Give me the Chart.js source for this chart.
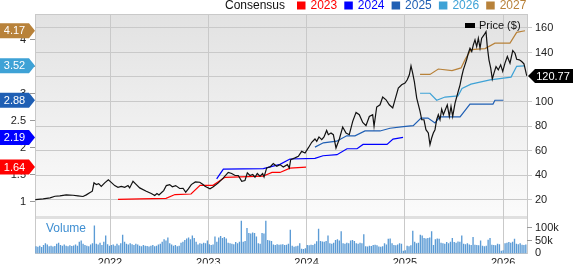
<!DOCTYPE html>
<html>
<head>
<meta charset="utf-8">
<script src="https://cdn.jsdelivr.net/npm/chart.js@4/dist/chart.umd.min.js"></script>
<style>
  html, body { margin: 0; padding: 0; background: #fff; }
  #wrap { width: 573px; height: 264px; }
</style>
</head>
<body>
<div id="wrap"><canvas id="chart" width="573" height="264"></canvas></div>
<script>
// price (weekly-ish closes), x = decimal year
const priceDates = [
  2021.24, 2021.32, 2021.39, 2021.44, 2021.49, 2021.555, 2021.624, 2021.674, 2021.725, 2021.759,
  2021.793, 2021.82, 2021.837, 2021.861, 2021.885, 2021.911, 2021.946, 2021.983, 2022.007, 2022.048,
  2022.081, 2022.115, 2022.15, 2022.183, 2022.2, 2022.234, 2022.268, 2022.302, 2022.369, 2022.42,
  2022.455, 2022.478, 2022.498, 2022.522, 2022.546, 2022.573, 2022.607, 2022.634, 2022.668, 2022.709,
  2022.743, 2022.77, 2022.797, 2022.827, 2022.868, 2022.913, 2022.946, 2022.966, 2023.017, 2023.051,
  2023.102, 2023.153, 2023.203, 2023.238, 2023.272, 2023.305, 2023.34, 2023.373, 2023.397, 2023.424,
  2023.452, 2023.475, 2023.498, 2023.526, 2023.553, 2023.567, 2023.594, 2023.628, 2023.661, 2023.696,
  2023.729, 2023.763, 2023.804, 2023.824, 2023.838, 2023.882, 2023.916, 2023.95, 2023.984, 2024.017,
  2024.052, 2024.085, 2024.103, 2024.126, 2024.154, 2024.177, 2024.204, 2024.221, 2024.248, 2024.272,
  2024.299, 2024.333, 2024.367, 2024.401, 2024.434, 2024.469, 2024.503, 2024.536, 2024.571, 2024.604,
  2024.638, 2024.672, 2024.686, 2024.713, 2024.747, 2024.774, 2024.808, 2024.841, 2024.876, 2024.899,
  2024.933, 2024.967, 2025.001, 2025.024, 2025.045, 2025.062, 2025.079, 2025.096, 2025.12, 2025.154,
  2025.171, 2025.194, 2025.214, 2025.238, 2025.255, 2025.272, 2025.289, 2025.306, 2025.323, 2025.34,
  2025.357, 2025.374, 2025.391, 2025.408, 2025.431, 2025.452, 2025.469, 2025.486, 2025.51, 2025.533,
  2025.561, 2025.578, 2025.594, 2025.611, 2025.629, 2025.645, 2025.662, 2025.68, 2025.696, 2025.713,
  2025.73, 2025.747, 2025.764, 2025.781, 2025.805, 2025.825, 2025.838, 2025.855, 2025.873, 2025.889,
  2025.906, 2025.927, 2025.95, 2025.974, 2025.995, 2026.018, 2026.042, 2026.069, 2026.097, 2026.12,
  2026.137, 2026.164, 2026.188, 2026.211, 2026.235, 2026.242
];
const priceValues = [
  20.0, 20.6, 21.4, 22.7, 23.0, 23.8, 23.5, 23.0, 22.5, 23.8,
  25.5, 26.8, 33.6, 32.2, 33.0, 30.8, 33.6, 36.1, 34.4, 31.4,
  30.0, 30.8, 30.0, 31.4, 29.5, 34.9, 32.2, 29.5, 26.8, 24.9,
  23.3, 24.9, 23.8, 25.5, 27.3, 31.4, 32.2, 30.4, 31.4, 29.0,
  29.2, 26.0, 28.7, 32.2, 34.4, 34.1, 32.2, 30.8, 28.7, 30.4,
  33.6, 37.7, 42.2, 41.2, 39.6, 39.6, 34.9, 35.5, 41.8, 39.6,
  40.4, 38.2, 41.2, 39.0, 41.2, 38.5, 45.8, 46.6, 49.3, 47.1,
  48.5, 46.6, 48.5, 45.8, 52.6, 54.0, 55.3, 59.3, 58.0, 62.1,
  66.7, 69.4, 67.5, 71.1, 68.9, 71.1, 76.4, 72.9, 74.3, 72.9,
  62.1, 69.4, 79.2, 74.3, 72.9, 83.8, 91.1, 89.2, 82.9, 80.3,
  87.8, 89.2, 79.7, 95.5, 97.3, 103.6, 101.4, 97.3, 94.7, 101.4,
  110.9, 113.6, 115.0, 117.7, 121.8, 129.1, 123.1, 116.3, 102.8, 91.9,
  85.1, 85.1, 77.0, 74.3, 64.8, 70.2, 74.3, 77.0, 85.1, 89.2,
  85.1, 93.8, 89.2, 92.7, 97.3, 87.8, 96.0, 87.8, 98.7, 105.5,
  113.6, 120.4, 125.8, 129.9, 134.5, 139.4, 143.5, 140.7, 146.2, 150.3,
  144.8, 151.6, 143.5, 151.6, 154.3, 157.0, 144.8, 134.0, 127.2, 118.3,
  123.1, 128.5, 125.8, 129.9, 124.5, 131.3, 136.7, 131.3, 141.5, 139.4,
  134.5, 134.0, 132.6, 130.7, 122.5, 120.77
];

// consensus EPS estimates per fiscal year
const cons2023Dates = [2022.081, 2022.305, 2022.570, 2022.661, 2022.824, 2022.916, 2023.048, 2023.170, 2023.556, 2023.648, 2023.729, 2023.831, 2023.994];
const cons2023 = [1.04, 1.05, 1.06, 1.13, 1.14, 1.30, 1.30, 1.45, 1.47, 1.54, 1.54, 1.62, 1.64];
const cons2024Dates = [2023.085, 2023.153, 2023.560, 2023.729, 2023.831, 2024.085, 2024.167, 2024.309, 2024.411, 2024.513, 2024.574, 2024.818, 2024.879, 2024.981];
const cons2024 = [1.42, 1.60, 1.61, 1.69, 1.79, 1.80, 1.85, 1.87, 1.98, 1.98, 2.06, 2.06, 2.16, 2.19];
const cons2025Dates = [2024.085, 2024.170, 2024.306, 2024.408, 2024.492, 2024.594, 2024.747, 2024.848, 2024.984, 2025.085, 2025.164, 2025.235, 2025.306, 2025.357, 2025.561, 2025.662, 2025.896, 2025.916, 2026.001];
const cons2025 = [2.01, 2.09, 2.12, 2.22, 2.22, 2.31, 2.31, 2.36, 2.39, 2.41, 2.55, 2.55, 2.46, 2.57, 2.57, 2.81, 2.81, 2.88, 2.88];
const cons2026Dates = [2025.154, 2025.255, 2025.323, 2025.408, 2025.540, 2025.581, 2025.672, 2025.866, 2026.080, 2026.137, 2026.212];
const cons2026 = [3.01, 3.01, 2.88, 2.94, 2.96, 3.10, 3.18, 3.26, 3.31, 3.51, 3.52];
const cons2027Dates = [2025.154, 2025.255, 2025.340, 2025.479, 2025.571, 2025.611, 2025.672, 2025.815, 2025.916, 2026.069, 2026.137, 2026.222];
const cons2027 = [3.36, 3.36, 3.46, 3.43, 3.48, 3.63, 3.82, 3.84, 3.94, 3.94, 4.14, 4.17];

// weekly volume in thousands, first week starting at volumeStart
const volumeStart = 2021.247;
const volumeK = [
  28,26,30,25,33,40,35,28,30,27, 29,38,42,33,30,35,30,28,32,29,
  31,35,30,45,50,38,33,30,28,35, 40,109,38,35,42,33,45,70,36,30,
  33,35,30,38,32,40,73,45,38,35, 40,36,33,38,35,30,28,33,30,29,
  27,30,33,28,30,35,38,45,55,50, 62,40,35,30,33,28,30,42,45,52,
  58,62,55,70,60,45,35,40,38,42, 40,50,36,33,35,66,45,62,68,60,
  64,58,42,40,38,36,44,40,45,127, 45,48,99,80,78,82,80,66,40,38,
  80,78,127,52,50,48,35,33,36,34, 35,36,33,34,38,92,30,26,28,30,
  40,18,17,20,33,32,34,33,38,47, 96,48,46,45,48,70,40,38,42,52,
  55,50,86,40,38,42,40,50,52,48, 40,38,42,40,75,28,27,30,29,33,
  34,32,27,26,28,40,35,57,58,40, 33,32,35,40,38,10,12,30,28,32,
  88,45,40,42,73,70,60,58,60,62, 86,33,55,58,57,42,40,38,44,40,
  45,60,44,42,46,45,70,38,36,40, 35,33,64,34,33,32,50,30,28,30,
  53,60,34,33,32,38,36,10,12,40, 42,44,42,45,57,38,36,40,34,33,
  35
];

const yearTicks = [2022, 2023, 2024, 2025, 2026];
const priceTicks = [20, 40, 60, 80, 100, 120, 140, 160];
const epsTicks = [1, 1.5, 2, 2.5, 3, 3.5, 4];
const volTicks = [0, 50, 100];
const consensusLabels = ['2023', '2024', '2025', '2026', '2027'];

const consensusColors = ['#ff0000', '#0000ff', '#1f5fb4', '#3ea2d6', '#b8823a'];
const GRID = '#c9c9c9';
const FONT = "'Liberation Sans', Arial, sans-serif";

const xy = (xs, ys) => xs.map((x, i) => ({ x: x, y: ys[i] }));
const consDates = [cons2023Dates, cons2024Dates, cons2025Dates, cons2026Dates, cons2027Dates];
const consValues = [cons2023, cons2024, cons2025, cons2026, cons2027];

Chart.defaults.font.family = FONT;

const decor = {
  id: 'decor',
  beforeDraw(chart) {
    const ctx = chart.ctx, a = chart.chartArea;
    const sepY = 216;
    ctx.save();
    const g = ctx.createLinearGradient(0, a.top, 0, sepY);
    g.addColorStop(0, '#e2e2e2');
    g.addColorStop(1, '#fbfbfb');
    ctx.fillStyle = g;
    ctx.fillRect(a.left, a.top, a.right - a.left, sepY - a.top);
    ctx.fillStyle = '#ffffff';
    ctx.fillRect(a.left, sepY, a.right - a.left, a.bottom - sepY);
    ctx.fillStyle = '#e0e0e0';
    ctx.fillRect(a.left, sepY, a.right - a.left, 3);
    ctx.restore();
  },
  beforeDatasetsDraw(chart) {
    const ctx = chart.ctx, a = chart.chartArea;
    ctx.save();
    ctx.strokeStyle = GRID;
    ctx.lineWidth = 1;
    ctx.beginPath();
    ctx.moveTo(a.left, a.top + 0.5);
    ctx.lineTo(a.right, a.top + 0.5);
    ctx.stroke();
    ctx.restore();
  },
  afterDraw(chart) {
    const ctx = chart.ctx, a = chart.chartArea;
    const vol = chart.scales.vol, eps = chart.scales.eps, price = chart.scales.price;
    ctx.save();

    // volume caption and right-hand volume ticks
    ctx.font = '12px ' + FONT;
    ctx.fillStyle = '#3f8fd2';
    ctx.textBaseline = 'middle';
    ctx.textAlign = 'left';
    ctx.fillText('Volume', 46, 229);
    ctx.font = '11px ' + FONT;
    ctx.fillStyle = '#222';
    ctx.strokeStyle = '#999';
    volTicks.forEach(v => {
      const y = Math.round(vol.getPixelForValue(v)) - 0.5;
      if (v > 0) {
        ctx.beginPath();
        ctx.moveTo(a.right, y);
        ctx.lineTo(a.right + 5, y);
        ctx.stroke();
      }
      ctx.fillText(v === 0 ? '0' : v + 'k', a.right + 8, y);
    });

    // left consensus badges
    ctx.font = '11px ' + FONT;
    ctx.textAlign = 'center';
    consValues.forEach((vals, k) => {
      const last = vals[vals.length - 1];
      const y = eps.getPixelForValue(last);
      ctx.fillStyle = consensusColors[k];
      ctx.beginPath();
      ctx.moveTo(0, y - 7.5);
      ctx.lineTo(29, y - 7.5);
      ctx.lineTo(a.left, y);
      ctx.lineTo(29, y + 7.5);
      ctx.lineTo(0, y + 7.5);
      ctx.closePath();
      ctx.fill();
      ctx.fillStyle = '#fff';
      ctx.fillText(last.toFixed(2), 14.5, y + 0.5);
    });

    // last price badge
    const lastPrice = priceValues[priceValues.length - 1];
    const py = price.getPixelForValue(lastPrice);
    ctx.fillStyle = '#000';
    ctx.beginPath();
    ctx.moveTo(a.right + 1, py);
    ctx.lineTo(a.right + 8, py - 7);
    ctx.lineTo(573, py - 7);
    ctx.lineTo(573, py + 7);
    ctx.lineTo(a.right + 8, py + 7);
    ctx.closePath();
    ctx.fill();
    ctx.fillStyle = '#fff';
    ctx.fillText(lastPrice.toFixed(2), 553, py + 0.5);

    // top legend
    ctx.textAlign = 'left';
    ctx.font = '12px ' + FONT;
    ctx.fillStyle = '#111';
    ctx.fillText('Consensus', 225, 5.5);
    consensusLabels.forEach((lab, k) => {
      const sx = 297 + k * 47.3;
      ctx.fillStyle = consensusColors[k];
      ctx.fillRect(sx, 1.5, 8.5, 8);
      ctx.fillText(lab, sx + 13.5, 5.5);
    });

    // price legend inside plot
    ctx.fillStyle = '#000';
    ctx.fillRect(465, 23, 10, 5);
    ctx.font = '11px ' + FONT;
    ctx.fillStyle = '#111';
    ctx.fillText('Price ($)', 479, 26);
    ctx.restore();
  }
};

const datasets = [{
  type: 'line',
  data: xy(priceDates, priceValues),
  yAxisID: 'price',
  borderColor: '#111',
  borderWidth: 1.2,
  pointRadius: 0,
  tension: 0
}];
consValues.forEach((vals, k) => {
  datasets.push({
    type: 'line',
    data: xy(consDates[k], vals),
    yAxisID: 'eps',
    borderColor: consensusColors[k],
    borderWidth: 1.2,
    pointRadius: 0,
    tension: 0
  });
});
datasets.push({
  type: 'bar',
  data: volumeK.map((v, i) => ({ x: volumeStart + i * 7 / 365.25, y: v })),
  yAxisID: 'vol',
  backgroundColor: '#5b9bd5',
  barPercentage: 0.72,
  categoryPercentage: 1
});

new Chart(document.getElementById('chart'), {
  type: 'line',
  data: { datasets: datasets },
  options: {
    responsive: false,
    animation: false,
    layout: { padding: { top: 14, left: 0, right: 0, bottom: 0 } },
    plugins: { legend: { display: false }, tooltip: { enabled: false } },
    scales: {
      x: {
        type: 'linear',
        min: 2021.237,
        max: 2026.242,
        offset: false,
        afterBuildTicks: s => { s.ticks = yearTicks.map(v => ({ value: v })); },
        afterFit: s => { s.height = 10; },
        grid: { color: GRID, drawTicks: false, offset: false },
        border: { color: GRID },
        ticks: { padding: 3, font: { size: 11 }, color: '#222', maxRotation: 0, autoSkip: false, callback: v => String(v) }
      },
      eps: {
        type: 'linear',
        position: 'left',
        min: 0.037,
        max: 4.4815,
        afterBuildTicks: s => { s.ticks = epsTicks.map(v => ({ value: v })); },
        afterFit: s => { s.width = 35; },
        grid: { drawOnChartArea: false, tickLength: 5, color: '#999' },
        border: { color: GRID },
        ticks: { padding: 4, font: { size: 11 }, color: '#222', autoSkip: false, callback: v => String(v) }
      },
      price: {
        type: 'linear',
        position: 'right',
        min: -23.95,
        max: 171.4,
        afterBuildTicks: s => { s.ticks = priceTicks.map(v => ({ value: v })); },
        afterFit: s => { s.width = 46; },
        grid: { color: GRID, tickLength: 5 },
        border: { color: GRID },
        ticks: { padding: 3, font: { size: 11 }, color: '#222', autoSkip: false, callback: v => String(v) }
      },
      vol: { type: 'linear', display: false, min: 0, max: 934 }
    }
  },
  plugins: [decor]
});
</script>
</body>
</html>
